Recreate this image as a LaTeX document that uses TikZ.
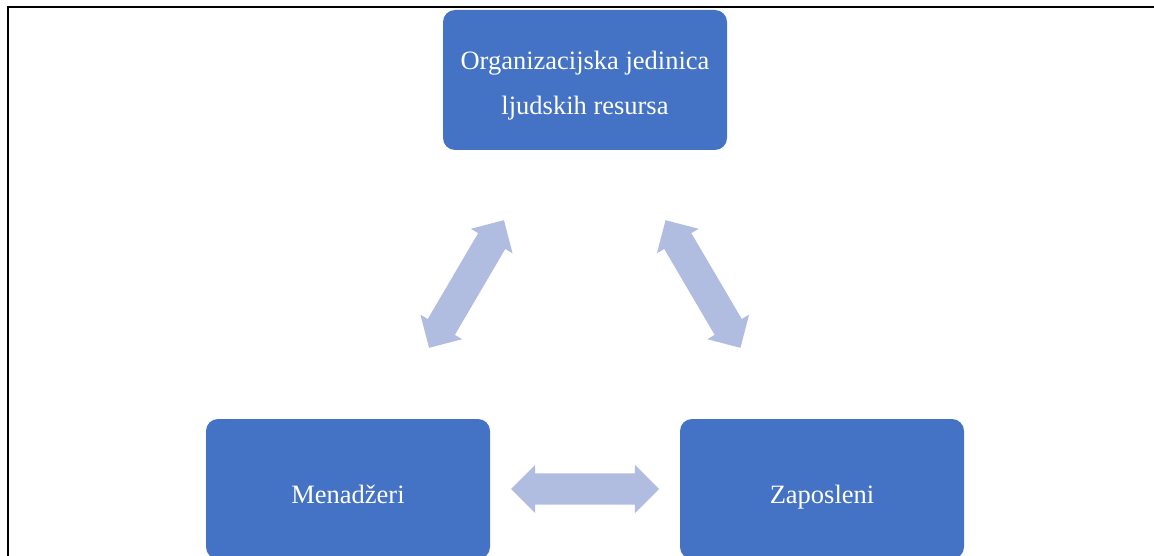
\documentclass[tikz,border=0pt]{standalone}
\usepackage{fontspec}
\setmainfont{Liberation Serif}
\usetikzlibrary{shapes.arrows}
\definecolor{boxblue}{HTML}{4472C4}
\definecolor{arrowblue}{HTML}{B0BDE0}
\tikzset{
  box/.style={rectangle, rounded corners=12pt, fill=boxblue, draw=none,
    minimum width=284pt, minimum height=140pt, inner sep=0pt},
  lbl/.style={text=white, inner sep=0pt, font=\fontsize{26.5}{31}\selectfont},
  dblarrow/.style={shape=double arrow, fill=arrowblue, draw=none, inner sep=0pt,
    text height=15.5pt, text depth=15.5pt, text width=0pt,
    double arrow head extend=8.5pt, double arrow tip angle=90,
    minimum height=148pt},
  frame/.style={draw=black, line width=2pt}
}
\begin{document}
\begin{tikzpicture}[x=1pt, y=1pt]
\clip (0,0) rectangle (1154,-556);
\useasboundingbox (0,0) rectangle (1154,-556);
\draw[frame] (1160,-7.5) -- (8.2,-7.5) -- (8.2,-570);
% boxes
\node[box] (org) at (585,-80) {};
\node[box] (men) at (348,-489) {};
\node[box] (zap) at (822,-489) {};
% labels
\node[lbl, anchor=base] (orgA) at ([yshift=10pt]org.center) {Organizacijska jedinica};
\node[lbl, anchor=base] (orgB) at ([yshift=-35pt]org.center) {ljudskih resursa};
\node[lbl, anchor=base] (menL) at ([yshift=-14pt]men.center) {Menadžeri};
\node[lbl, anchor=base] (zapL) at ([yshift=-14pt]zap.center) {Zaposleni};
% double arrows
\node[dblarrow, rotate=59.6] (a1) at (466.5,-284) {};
\node[dblarrow, rotate=-59.6] (a2) at (703,-284) {};
\node[dblarrow] (a3) at (585,-489) {};
\end{tikzpicture}
\end{document}
